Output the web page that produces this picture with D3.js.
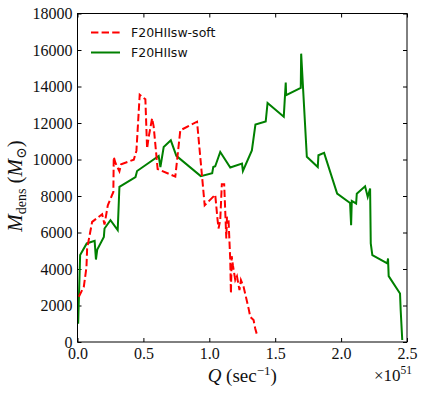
<!DOCTYPE html>
<html>
<head>
<meta charset="utf-8">
<script src="https://cdn.jsdelivr.net/npm/d3@7"></script>
<style>
  body { margin: 0; background: #fff; }
  svg { display: block; }
</style>
</head>
<body>
<script>
// Q in units of 1e51 s^-1, M in solar masses
var qSoft = [0.01, 0.048, 0.068, 0.073, 0.111, 0.187, 0.205, 0.23, 0.272, 0.275, 0.288, 0.318, 0.331,
  0.427, 0.447, 0.472, 0.515, 0.528, 0.54, 0.566, 0.578, 0.608, 0.742, 0.78, 0.907, 0.965, 1.045,
  1.063, 1.07, 1.083, 1.095, 1.113, 1.129, 1.134, 1.146, 1.159, 1.164, 1.17, 1.179, 1.197, 1.21,
  1.229, 1.24, 1.26, 1.298, 1.311, 1.336, 1.348, 1.366];
var mSoft = [2480, 3030, 4090, 5120, 6580, 7000, 6440, 7490, 8220, 10140, 9810, 9350, 9740,
  9990, 10470, 13550, 13300, 10600, 11230, 12260, 11800, 9480, 9060, 11600, 12070, 7490, 8070,
  6670, 6220, 6670, 8640, 8640, 5670, 6850, 6670, 4490, 2660, 4700, 4210, 3390, 3600,
  2840, 3390, 3030, 1840, 1380, 1200, 750, 290];

var qSw = [0.005, 0.02, 0.07, 0.13, 0.14, 0.15, 0.2, 0.205, 0.25, 0.305, 0.318, 0.44, 0.452,
  0.616, 0.629, 0.654, 0.708, 0.75, 0.935, 1.022, 1.03, 1.045, 1.083, 1.159, 1.248, 1.255,
  1.323, 1.35, 1.428, 1.442, 1.565, 1.58, 1.583, 1.694, 1.697, 1.74, 1.823, 1.828, 1.871,
  1.97, 2.068, 2.076, 2.081, 2.114, 2.119, 2.182, 2.202, 2.22, 2.225, 2.237, 2.351, 2.356,
  2.361, 2.447, 2.452, 2.464];
var mSw = [1000, 4760, 5400, 5540, 4520, 5070, 5760, 6220, 6670, 6130, 8500, 9040, 9370,
  10190, 9590, 10680, 11050, 10200, 9090, 9250, 9590, 9630, 10410, 9560, 9775, 9370,
  10500, 11910, 12080, 13100, 12340, 14220, 13520, 13930, 15800, 10150, 9590, 10230, 10360,
  8130, 7620, 6400, 7730, 7590, 8130, 8530, 7950, 8410, 5400, 4760, 4310, 4580,
  3610, 2660, 1750, 110];

var xTicks = [0, 0.5, 1.0, 1.5, 2.0, 2.5];
var yTicks = [0, 2000, 4000, 6000, 8000, 10000, 12000, 14000, 16000, 18000];
var names = ["F20HIIsw-soft", "F20HIIsw"];

var W = 425, H = 395;
var pL = 77.5, pR = 407, pT = 13.5, pB = 342;

var svg = d3.select("body").append("svg")
  .attr("width", W)
  .attr("height", H);

var x = d3.scaleLinear().domain([0, 2.5]).range([pL, pR]);
var y = d3.scaleLinear().domain([0, 18000]).range([pB, pT]);

var serif = "'Liberation Serif', 'DejaVu Serif', serif";

// ticks pointing inward on every side
svg.append("g").attr("transform", "translate(0," + pB + ")")
  .call(d3.axisBottom(x).tickValues(xTicks).tickSize(-4).tickPadding(6).tickFormat(d3.format(".1f")));
svg.append("g").attr("transform", "translate(0," + pT + ")")
  .call(d3.axisTop(x).tickValues(xTicks).tickSize(-4).tickFormat(""));
var yAxis = svg.append("g").attr("transform", "translate(" + pL + ",0)")
  .call(d3.axisLeft(y).tickValues(yTicks).tickSize(-4).tickPadding(5).tickFormat(d3.format("d")));
svg.append("g").attr("transform", "translate(" + pR + ",0)")
  .call(d3.axisRight(y).tickValues(yTicks).tickSize(-4).tickFormat(""));

svg.selectAll(".domain").remove();
svg.selectAll(".tick line").attr("stroke", "#000");
svg.selectAll(".tick text")
  .attr("font-family", serif)
  .attr("font-size", "16px")
  .attr("fill", "#111");
yAxis.selectAll(".tick text").attr("dy", "0.34em");

var line = d3.line()
  .x(function(d) { return x(d[0]); })
  .y(function(d) { return y(d[1]); });

var soft = qSoft.map(function(q, i) { return [q, mSoft[i]]; });
var sw = qSw.map(function(q, i) { return [q, mSw[i]]; });

svg.append("path")
  .datum(sw)
  .attr("d", line)
  .attr("fill", "none")
  .attr("stroke", "#008000")
  .attr("stroke-width", 2);

svg.append("path")
  .datum(soft)
  .attr("d", line)
  .attr("fill", "none")
  .attr("stroke", "#ff0000")
  .attr("stroke-width", 2)
  .attr("stroke-dasharray", "7.4,3.2");

// frame
svg.append("rect")
  .attr("x", pL).attr("y", pT)
  .attr("width", pR - pL).attr("height", pB - pT)
  .attr("fill", "none")
  .attr("stroke", "#000")
  .attr("stroke-width", 1);

// legend
var legend = svg.append("g");
var legStyles = [{color: "#ff0000", dash: "7.4,3.2"}, {color: "#008000", dash: null}];
names.forEach(function(n, i) {
  var ly = 32.5 + i * 20;
  legend.append("line")
    .attr("x1", 91).attr("x2", 120)
    .attr("y1", ly).attr("y2", ly)
    .attr("stroke", legStyles[i].color)
    .attr("stroke-width", 2)
    .attr("stroke-dasharray", legStyles[i].dash);
  legend.append("text")
    .attr("x", 131).attr("y", ly + 4.8)
    .attr("font-family", "'DejaVu Sans', sans-serif")
    .attr("font-size", "12.5px")
    .attr("fill", "#111")
    .text(n);
});

// x label
var xl = svg.append("text")
  .attr("x", (pL + pR) / 2)
  .attr("y", 382)
  .attr("text-anchor", "middle")
  .attr("font-family", serif)
  .attr("font-size", "19px")
  .attr("fill", "#111");
xl.append("tspan").attr("font-style", "italic").text("Q");
xl.append("tspan").text(" (sec");
xl.append("tspan").attr("font-size", "13px").attr("dy", -7).text("\u22121");
xl.append("tspan").attr("dy", 7).text(")");

// offset text
var off = svg.append("text")
  .attr("x", 412)
  .attr("y", 381)
  .attr("text-anchor", "end")
  .attr("font-family", serif)
  .attr("font-size", "17px")
  .attr("fill", "#111");
off.append("tspan").text("\u00d710");
off.append("tspan").attr("font-size", "11.5px").attr("dy", -7).text("51");

// y label
var yl = svg.append("text")
  .attr("transform", "translate(22,186) rotate(-90)")
  .attr("text-anchor", "middle")
  .attr("font-family", serif)
  .attr("font-size", "21px")
  .attr("fill", "#111");
yl.append("tspan").attr("font-style", "italic").text("M");
yl.append("tspan").attr("font-size", "14px").attr("dy", 4).text("dens");
yl.append("tspan").attr("dy", -4).text(" (");
yl.append("tspan").attr("font-style", "italic").text("M");
yl.append("tspan").attr("font-size", "14px").attr("dy", 4).text("\u2299");
yl.append("tspan").attr("dy", -4).text(")");
</script>
</body>
</html>
